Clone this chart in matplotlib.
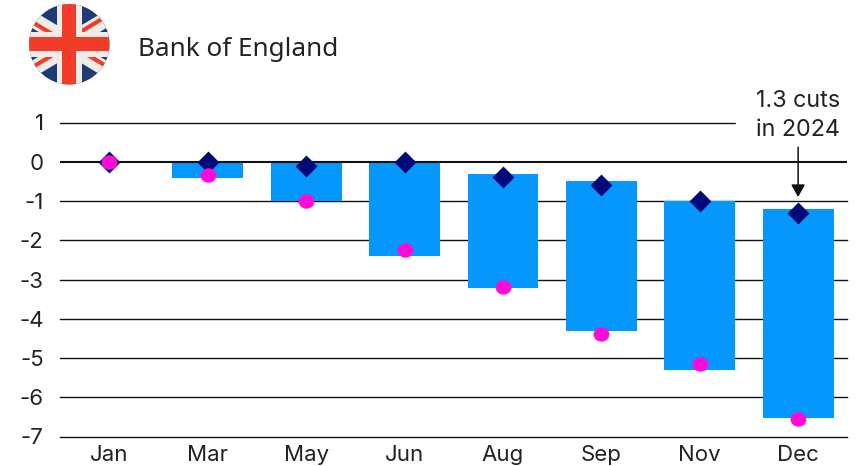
import matplotlib
matplotlib.use("Agg")
import matplotlib.pyplot as plt
from matplotlib.patches import Circle, Polygon, Rectangle
from matplotlib.path import Path
from matplotlib.transforms import Affine2D

W, H = 861, 466
months = ["Jan", "Mar", "May", "Jun", "Aug", "Sep", "Nov", "Dec"]
bar_top = [0, 0, 0, 0, -0.3, -0.5, -1.0, -1.2]
bar_bottom = [0, -0.42, -1.0, -2.4, -3.22, -4.3, -5.3, -6.53]
diamonds = [0, 0, -0.1, 0, -0.4, -0.6, -1.0, -1.3]
circles = [0, -0.35, -1.0, -2.25, -3.2, -4.4, -5.15, -6.55]
yticks = [1, 0, -1, -2, -3, -4, -5, -6, -7]

plt.rcParams["font.family"] = ["Inter", "DejaVu Sans"]
fig = plt.figure(figsize=(W / 100, H / 100), dpi=100, facecolor="white")

ax = fig.add_axes([60.3 / W, 1 - 436.5 / H, (847 - 60) / W, (436.5 - 122.5) / H])
ax.set_xlim(-0.5, 7.5)
ax.set_ylim(-7, 1)
x = list(range(len(months)))
ax.bar(x, [t - b for t, b in zip(bar_top, bar_bottom)], bottom=bar_bottom,
       width=0.72, color="#0597FC", zorder=2)
for v in yticks:
    if v == 0:
        continue
    ax.axhline(v, color="#111111", lw=1.0, zorder=1, clip_on=False)
ax.axhline(0, color="#111111", lw=1.5, zorder=3)
ax.scatter(x, diamonds, marker="D", s=125, color="#000A78", zorder=4, linewidths=0)
oval = Path.unit_circle().transformed(Affine2D().scale(1.1, 1.0))
ax.scatter(x, circles, marker=oval, s=130, color="#FF0AD6", zorder=5, linewidths=0,
           clip_on=False)
# white mask behind the annotation, breaking the top gridline
ax.add_patch(Rectangle((6.37, 0.5), 1.2, 1.1, color="white", zorder=1.5, clip_on=False))
ax.set_xticks(x, months)
ax.set_yticks(yticks, [str(v) for v in yticks])
ax.tick_params(length=0, labelsize=16, colors="#222222")
ax.tick_params(axis="x", pad=6)
ax.tick_params(axis="y", pad=12)
for s in ax.spines.values():
    s.set_visible(False)

ax.text(7, 0.52, "1.3 cuts\nin 2024", ha="center", va="bottom", fontsize=16.8,
        color="#222222", linespacing=1.42, zorder=6)
ax.annotate("", xy=(7, diamonds[7] + 0.4), xytext=(7, 0.37),
            arrowprops=dict(arrowstyle="-|>,head_width=0.42,head_length=0.75", color="#111111",
                            lw=1.1, shrinkA=0, shrinkB=0), zorder=6)

# flag badge
fa = fig.add_axes([29 / W, 1 - 84.5 / H, 80.5 / W, 80.5 / H])
fa.set_xlim(-1, 1)
fa.set_ylim(-1, 1)
fa.axis("off")
clip = Circle((0, 0), 1, transform=fa.transData)

def add(p):
    fa.add_patch(p)
    p.set_clip_path(clip)

def stripe(sx, sy, lo, hi, color):
    pts = [(0, lo), (1.6, 0.96 + lo), (1.6, 0.96 + hi), (0, hi)]
    add(Polygon([(sx * a, sy * b) for a, b in pts], color=color, lw=0))

add(Rectangle((-1, -1), 2, 2, color="#1F3B73", lw=0))
red_offsets = {(-1, 1): 0.0, (1, 1): 0.14, (-1, -1): 0.02, (1, -1): -0.01}
for (sx, sy), off in red_offsets.items():
    stripe(sx, sy, -0.15, 0.29, "#EFEBE7")
    stripe(sx, sy, off - 0.06, off + 0.06, "#F03C28")
add(Rectangle((-0.305, -1), 0.61, 2, color="#EFEBE7", lw=0))
add(Rectangle((-1, -0.305), 2, 0.61, color="#EFEBE7", lw=0))
add(Rectangle((-0.18, -1), 0.36, 2, color="#F03C28", lw=0))
add(Rectangle((-1, -0.18), 2, 0.36, color="#F03C28", lw=0))

fig.text(138 / W, 1 - 49.5 / H, "Bank of England", fontsize=18.8, color="#222222",
         ha="left", va="center", family=["Noto Sans", "DejaVu Sans"])
fig.savefig("out.png", dpi=100, facecolor="white")
